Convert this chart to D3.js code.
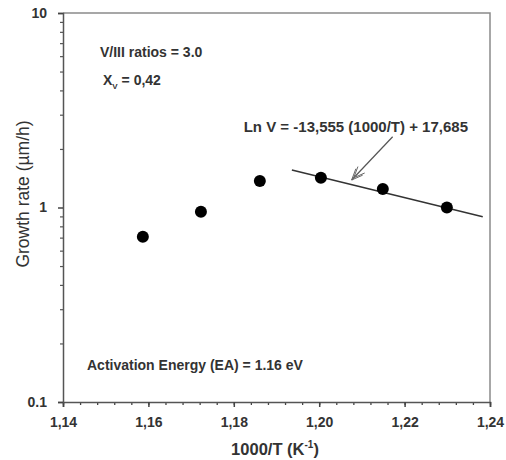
<!DOCTYPE html>
<html>
<head>
<meta charset="utf-8">
<script src="https://cdn.jsdelivr.net/npm/d3@7"></script>
<style>
  body { margin: 0; background: #fff; }
  svg text { font-family: "Liberation Sans", Arial, sans-serif; fill: #333; }
</style>
</head>
<body>
<svg id="chart" width="506" height="460"></svg>
<script>
// measured points (1000/T, growth rate um/h)
var invT = [1.1587, 1.1723, 1.1861, 1.2004, 1.2149, 1.2299];
var rate = [0.708, 0.951, 1.368, 1.423, 1.245, 1.0];

// fitted line end points
var fitX = [1.1936, 1.2383];
var fitY = [1.56, 0.897];

// arrow from the equation to the line
var arrowX = [1.2172, 1.2076];
var arrowY = [2.31, 1.385];

var xTicks = [1.14, 1.16, 1.18, 1.20, 1.22, 1.24];
var xTickLabels = ['1,14', '1,16', '1,18', '1,20', '1,22', '1,24'];
var yTicks = [0.1, 1, 10];
var yTickLabels = ['0.1', '1', '10'];

const L = 63, R = 490, T = 13, B = 402;

const svg = d3.select('#chart');

const x = d3.scaleLinear().domain([1.14, 1.24]).range([L, R]);
const y = d3.scaleLog().domain([0.1, 10]).range([B, T]);

// frame (top + right are lighter)
svg.append('path')
    .attr('d', `M${L},${T}H${R}V${B}`)
    .attr('fill', 'none')
    .attr('stroke', '#8a8a8a')
    .attr('stroke-width', 1.5);

// x axis
var minorX = d3.range(0, 26).map(i => 1.14 + i * 0.004);
const xAxis = svg.append('g').attr('transform', `translate(0,${B})`)
    .call(d3.axisBottom(x).tickValues(minorX).tickSize(3).tickFormat(''));
xAxis.select('.domain').remove();
xAxis.selectAll('line').attr('stroke', '#444').attr('stroke-width', 1.3);

const xMaj = svg.append('g').attr('transform', `translate(0,${B})`)
    .call(d3.axisBottom(x).tickValues(xTicks).tickSize(5).tickPadding(10)
        .tickFormat((d, i) => xTickLabels[i]));
xMaj.select('.domain').attr('stroke', '#555').attr('stroke-width', 1.5);
xMaj.selectAll('line').attr('stroke', '#444').attr('stroke-width', 1.5);
xMaj.selectAll('text')
    .attr('font-size', 14).attr('font-weight', 'bold')
    .style('font-family', '"Liberation Sans", Arial, sans-serif')
    .attr('fill', '#333');

// y axis
var minorY = [];
[0.1, 1].forEach(function (dec) {
    for (let k = 2; k <= 9; k++) minorY.push(dec * k);
});
const yAxis = svg.append('g').attr('transform', `translate(${L},0)`)
    .call(d3.axisLeft(y).tickValues(minorY).tickSize(3).tickFormat(''));
yAxis.select('.domain').remove();
yAxis.selectAll('line').attr('stroke', '#555').attr('stroke-width', 1.2);

const yMaj = svg.append('g').attr('transform', `translate(${L},0)`)
    .call(d3.axisLeft(y).tickValues(yTicks).tickSize(5).tickPadding(11)
        .tickFormat((d, i) => yTickLabels[i]));
yMaj.select('.domain').attr('stroke', '#555').attr('stroke-width', 1.5);
yMaj.selectAll('line').attr('stroke', '#444').attr('stroke-width', 1.5);
yMaj.selectAll('text')
    .attr('font-size', 14).attr('font-weight', 'bold')
    .style('font-family', '"Liberation Sans", Arial, sans-serif')
    .attr('fill', '#222');

// axis titles
svg.append('text')
    .attr('x', 275).attr('y', 455)
    .attr('text-anchor', 'middle')
    .attr('font-size', 16.5).attr('font-weight', 'bold')
    .html('1000/T (K<tspan dy="-7" font-size="10">-1</tspan><tspan dy="7">)</tspan>');

svg.append('text')
    .attr('transform', 'translate(29,194) rotate(-90)')
    .attr('text-anchor', 'middle')
    .attr('font-size', 17.5)
    .attr('fill', '#3a3a3a')
    .text('Growth rate (µm/h)');

// fit line
const line = d3.line().x(d => x(d[0])).y(d => y(d[1]));
svg.append('path')
    .datum(d3.zip(fitX, fitY))
    .attr('d', line)
    .attr('fill', 'none')
    .attr('stroke', '#333')
    .attr('stroke-width', 1.5);

// points
svg.append('g').selectAll('circle')
    .data(d3.zip(invT, rate))
    .enter().append('circle')
    .attr('cx', d => x(d[0]))
    .attr('cy', d => y(d[1]))
    .attr('r', 6)
    .attr('fill', '#000');

// arrow (open, double-line head)
var ax0 = x(arrowX[0]), ay0 = y(arrowY[0]), ax1 = x(arrowX[1]), ay1 = y(arrowY[1]);
var ang = Math.atan2(ay1 - ay0, ax1 - ax0);
svg.append('line')
    .attr('x1', ax0).attr('y1', ay0).attr('x2', ax1).attr('y2', ay1)
    .attr('stroke', '#555').attr('stroke-width', 1.2);
[0.4, -0.4].forEach(function (da) {
    [0, 3].forEach(function (off) {
        var bx = ax1 - off * Math.cos(ang), by = ay1 - off * Math.sin(ang);
        svg.append('line')
            .attr('x1', bx).attr('y1', by)
            .attr('x2', bx - 12 * Math.cos(ang + da))
            .attr('y2', by - 12 * Math.sin(ang + da))
            .attr('stroke', '#666').attr('stroke-width', 1);
    });
});

// annotations
svg.append('text')
    .attr('x', 100).attr('y', 57)
    .attr('font-size', 14).attr('font-weight', 'bold')
    .text('V/III ratios = 3.0');

svg.append('text')
    .attr('x', 103).attr('y', 85)
    .attr('font-size', 14).attr('font-weight', 'bold')
    .html('X<tspan dy="4" font-size="8">V</tspan><tspan dy="-4"> = 0,42</tspan>');

svg.append('text')
    .attr('x', 468).attr('y', 132)
    .attr('text-anchor', 'end')
    .attr('font-size', 15).attr('font-weight', 'bold')
    .attr('fill', '#222')
    .text('Ln V = -13,555 (1000/T) + 17,685');

svg.append('text')
    .attr('x', 87).attr('y', 370)
    .attr('font-size', 14).attr('font-weight', 'bold')
    .text('Activation Energy (EA) = 1.16 eV');
</script>
</body>
</html>
